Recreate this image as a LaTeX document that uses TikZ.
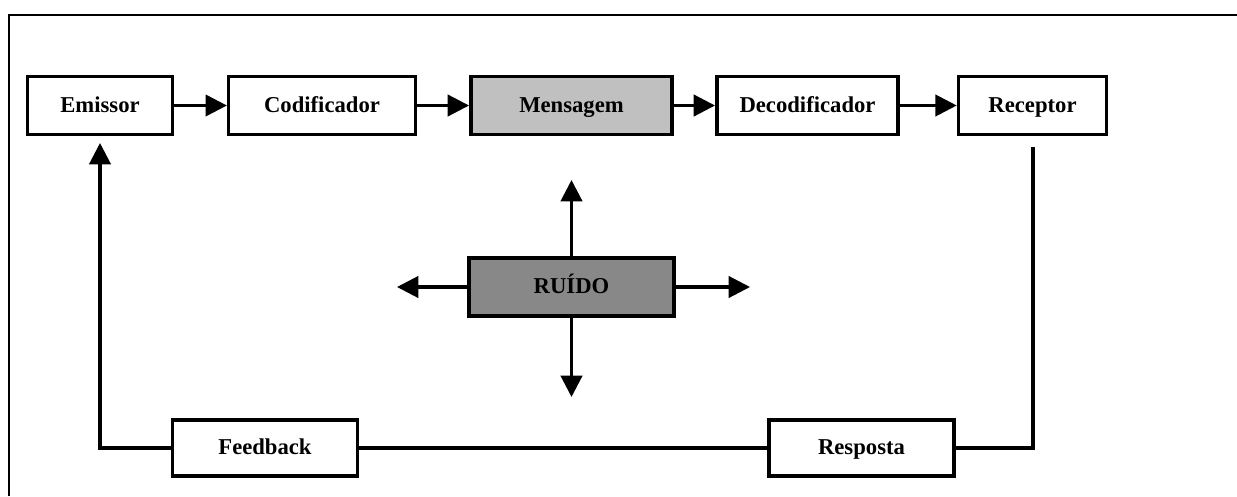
\documentclass[tikz,border=0pt]{standalone}
\usepackage{fontspec}
\setmainfont{Liberation Serif}
\usetikzlibrary{arrows.meta}
\definecolor{msgfill}{HTML}{C0C0C0}
\definecolor{noisefill}{HTML}{888888}
\begin{document}
\begin{tikzpicture}[x=0.75pt,y=-0.75pt,
  box/.style={draw=black,line width=2.7pt,rectangle,minimum height=43.5pt,inner sep=0pt,
    text height=11.3pt,text depth=1.2pt,
    font=\fontsize{17}{20}\selectfont\bfseries,fill=white},
  lowbox/.style={box,minimum height=42pt},
  conn/.style={line width=2.3pt,draw=black},
  arr/.style={conn,-{Triangle[length=16pt,width=16pt]}},
  frameline/.style={line width=1.6pt,draw=black}]
\useasboundingbox (0,0) rectangle (1237,496);
\draw[frameline] (9,496) -- (9,15) -- (1237,15);
% top row
\node[box,minimum width=109pt] (em) at (100,105.5) {Emissor};
\node[box,minimum width=140pt] (cod) at (322,105.5) {Codificador};
\node[box,minimum width=151pt,fill=msgfill] (msg) at (571.5,105.5) {Mensagem};
\node[box,minimum width=136pt] (dec) at (807.5,105.5) {Decodificador};
\node[box,minimum width=111pt] (rec) at (1032.5,105.5) {Receptor};
% noise
\node[box,minimum width=154pt,fill=noisefill] (ru) at (571.5,287) {RUÍDO};
% bottom row
\node[lowbox,minimum width=139pt] (fb) at (265,448) {Feedback};
\node[lowbox,minimum width=139pt] (resp) at (861.5,448) {Resposta};
% coordinates
\coordinate (ruup) at (571.5,180);
\coordinate (rudown) at (571.5,397);
\coordinate (ruleft) at (397,287);
\coordinate (ruright) at (750,287);
\coordinate (fbtip) at (100,143);
\coordinate (recstart) at (1033,147);
% connectors
\draw[arr] (em) -- (cod);
\draw[arr] (cod) -- (msg);
\draw[arr] (msg) -- (dec);
\draw[arr] (dec) -- (rec);
\draw[arr] (ru.north) -- (ruup);
\draw[arr] (ru.south) -- (rudown);
\draw[arr] (ru.west) -- (ruleft);
\draw[arr] (ru.east) -- (ruright);
\draw[conn] (recstart) |- (resp.east);
\draw[conn] (resp.west) -- (fb.east);
\draw[arr] (fb.west) -| (fbtip);
\end{tikzpicture}
\end{document}
